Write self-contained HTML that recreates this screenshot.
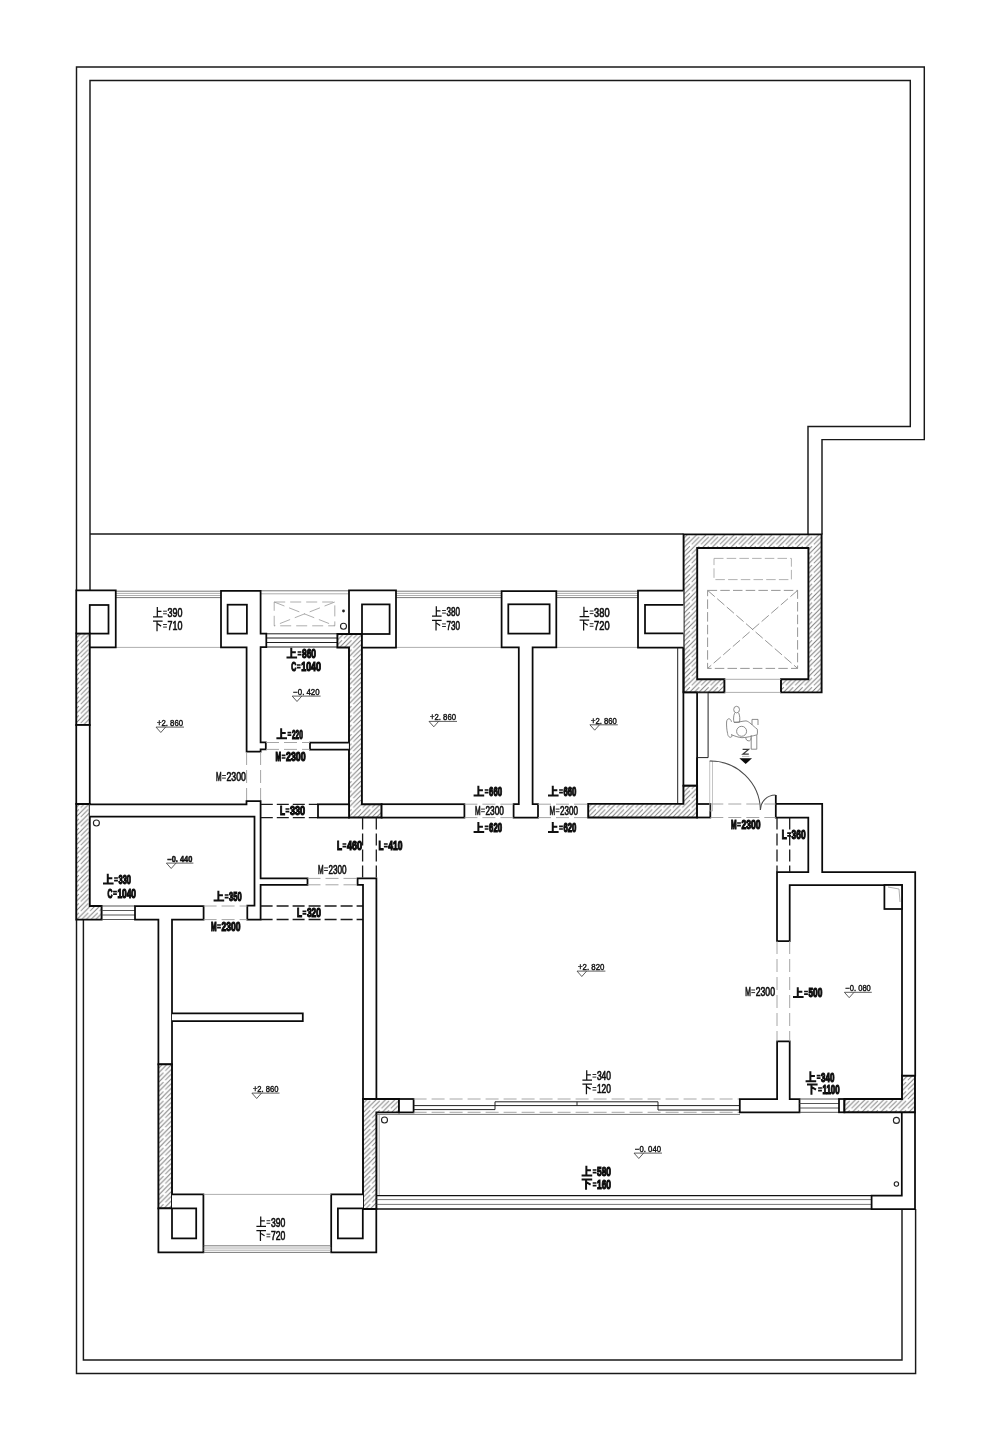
<!DOCTYPE html>
<html><head><meta charset="utf-8"><title>Floor plan</title>
<style>
html,body{margin:0;padding:0;background:#fff;}
svg{display:block;filter:grayscale(1);}
.f{fill:none;stroke:#181818;stroke-width:1.45;}
.w{fill:#fff;stroke:#0a0a0a;stroke-width:1.75;stroke-linejoin:miter;}
.k{fill:none;stroke:#0a0a0a;stroke-width:1.75;}
.h{fill:url(#ht);stroke:#0a0a0a;stroke-width:1.9;}
.t{fill:none;stroke:#555;stroke-width:0.8;}
.m{fill:none;stroke:#111;stroke-width:1.3;}
.t3{fill:none;stroke:#444;stroke-width:0.9;}
.t2{fill:none;stroke:#222;stroke-width:1;}
.g{fill:none;stroke:#999;stroke-width:0.8;}
.g2{fill:none;stroke:#aaa;stroke-width:0.7;}
.arc{fill:none;stroke:#4a4a4a;stroke-width:1.05;}
.c{fill:#fff;stroke:#222;stroke-width:1.1;}
.dl{fill:none;stroke:#9c9c9c;stroke-width:0.9;stroke-dasharray:13 5;}
.de{fill:none;stroke:#8a8a8a;stroke-width:0.9;stroke-dasharray:9.5 3.2;}
.de2{fill:none;stroke:#aaa;stroke-width:0.9;stroke-dasharray:9.5 3.2;}
.dl2{fill:none;stroke:#999;stroke-width:0.8;stroke-dasharray:11 5;}
.dd{fill:none;stroke:#1a1a1a;stroke-width:1.3;stroke-dasharray:12 4;}
text{font-family:"Liberation Sans",sans-serif;fill:#111;}
.tr{font-size:12.4px;stroke:#111;stroke-width:0.7;}
.tb{font-size:12.4px;font-weight:bold;stroke:#0a0a0a;stroke-width:1.2;}
.er{font-size:8.4px;stroke:#111;stroke-width:0.4;}
.eb{font-size:8.4px;font-weight:bold;stroke:#111;stroke-width:0.5;}
.el{fill:none;stroke:#333;stroke-width:0.8;}
</style></head>
<body>
<svg width="1000" height="1440" viewBox="0 0 1000 1440">
<defs>
<pattern id="ht" patternUnits="userSpaceOnUse" width="9.4" height="9.4">
<rect width="9.400" height="9.400" fill="#fff"/>
<path d="M-1,1L1,-1M-0.500,9.900L9.900,-0.500M8.400,10.400L10.400,8.400" stroke="#787878" stroke-width="0.95" fill="none"/>
<path d="M-0.300,5L3.700,1M5.400,8.700L9.700,4.400" stroke="#858585" stroke-width="0.95" fill="none"/>
</pattern>
</defs>
<rect width="1000" height="1440" fill="#fff"/>
<path class="f" d="M76.5,591V67H924.3V439.6H822V534.4"/>
<path class="f" d="M90,591V80.5H910.3V426.4H808V534.4"/>
<path class="f" d="M90,534H683.6"/>
<path class="f" d="M76.5,919.6V1373.4H915.6V1209"/>
<path class="f" d="M83.4,919.6V1360H902V1209"/>
<path class="h" d="M683.6,534.4H821.6V692.4H781V679.2H808.4V548H697.2V679.2H724.4V692.4H683.6Z"/>
<path class="g" d="M724.4,679.3H781"/>
<path class="g" d="M724.4,692.4H781"/>
<rect class="de2" x="714" y="558.4" width="77.4" height="21.2"/>
<path class="de" d="M707.6,590.4H797.6V668.4H707.6ZM707.6,590.4L797.6,668.4M797.6,590.4L707.6,668.4"/>
<path class="t" d="M115.75,591.2H221"/>
<path class="g" d="M115.75,593.4H221"/>
<path class="g" d="M115.75,595.5H221"/>
<path class="t" d="M115.75,597.6H221"/>
<path class="g" d="M115.75,647.4H221"/>
<path class="t" d="M396,591.2H501.6"/>
<path class="g" d="M396,593.4H501.6"/>
<path class="g" d="M396,595.5H501.6"/>
<path class="t" d="M396,597.6H501.6"/>
<path class="g" d="M396,647.4H501.6"/>
<path class="t" d="M556.3,591.2H638"/>
<path class="g" d="M556.3,593.4H638"/>
<path class="g" d="M556.3,595.5H638"/>
<path class="t" d="M556.3,597.6H638"/>
<path class="g" d="M556.3,647.4H638"/>
<path class="t" d="M260.5,590.8H348.8"/>
<path class="g" d="M260.5,593.8H348.8"/>
<path class="t2" d="M266.5,633.8H337.5"/>
<path class="t2" d="M266.5,638H337.5"/>
<path class="t2" d="M266.5,642.5H337.5"/>
<path class="t2" d="M266.5,647H337.5"/>
<path class="dl2" d="M274.2,602H334.8V625.8H274.2ZM274.2,602L334.8,625.8M334.8,602L274.2,625.8"/>
<circle cx="343.5" cy="611" r="1.4" fill="#222"/>
<circle cx="343.5" cy="626.3" r="3" class="c"/>
<path class="w" d="M76.25,633.6V590.4H115.75V647.4H89.75"/>
<rect class="w" x="89.75" y="605" width="18.75" height="28.6"/>
<rect class="h" x="76.25" y="633.6" width="13.5" height="91.4"/>
<rect class="w" x="76.25" y="725" width="13.5" height="79"/>
<path class="h" d="M76.25,804H89.75V906H101.6V919.6H76.25Z"/>
<path class="w" d="M221,590.8H260.6V633.7H266.3V647.2H260.6V742.4H265.8V749.3H260.6V751.7H246.6V647.3H221Z"/>
<rect class="w" x="227.6" y="604.7" width="19.3" height="28.9"/>
<path class="w" d="M349,634V590.4H396V647.6H362"/>
<rect class="w" x="362" y="604.4" width="27.6" height="29.6"/>
<path class="h" d="M337.4,634H361.9V804.2H381.6V817.5H349V647.5H337.4Z"/>
<path class="w" d="M501.6,591H556.3V647.4H532.6V804H538V817.6H513.6V804H518.8V647.4H501.6Z"/>
<rect class="w" x="508.3" y="604.3" width="41.3" height="29.3"/>
<path class="w" d="M683.4,590.6H638V647.7H683.4"/>
<path class="w" d="M683.4,604.8H645V633.4H683.4"/>
<path class="t2" d="M677.7,647.7V804"/>
<path class="k" d="M683.4,647.7V692.4"/>
<rect class="w" x="683.4" y="692.5" width="13.7" height="93.2"/>
<path class="t2" d="M697.1,692.5H708.1V757.6H697.1"/>
<path class="h" d="M588.2,803.9H683.4V785.7H697.1V817.5H588.2Z"/>
<path class="k" d="M697.1,757.6V804"/>
<rect class="w" x="697.1" y="804" width="13.2" height="13.5"/>
<path class="w" d="M348.9,742.6H310V749.5H348.9"/>
<path class="dl" d="M266,742.5H310"/>
<path class="dl" d="M266,749.4H310"/>
<path class="dl" d="M246.6,752V801"/>
<path class="dl" d="M260.6,752V801"/>
<path class="w" d="M89.75,804.3H246.5V801.2H260.6V878.4H307.5V884.8H260.6V919.5H247.3V905.7H254.5V816.6H89.75"/>
<path class="dd" d="M260.8,804.4H318"/>
<path class="dd" d="M260.8,817.6H318"/>
<rect class="w" x="318" y="804.3" width="31" height="13.3"/>
<rect class="w" x="381.6" y="804.2" width="82.8" height="13.4"/>
<path class="dl" d="M464.4,804.2H513.6"/>
<path class="dl" d="M464.4,817.6H513.6"/>
<path class="dl" d="M538,804.2H588.2"/>
<path class="dl" d="M538,817.6H588.2"/>
<path class="dd" d="M362.6,817.6V878.4"/>
<path class="dd" d="M376.3,817.6V878.4"/>
<path class="dl" d="M307.5,878.4H357.6"/>
<path class="dl" d="M307.5,884.8H357.6"/>
<path class="dd" d="M260.6,906H363"/>
<path class="dd" d="M260.6,919.5H363"/>
<path class="w" d="M357.6,878.4H376.4V1099H363V884.8H357.6Z"/>
<path class="h" d="M363,1099H399V1112.4H376.4V1209H363Z"/>
<rect class="w" x="399" y="1099" width="14.6" height="13.4"/>
<path class="t3" d="M101.6,906H135"/>
<path class="t3" d="M101.6,910.5H135"/>
<path class="t3" d="M101.6,915H135"/>
<path class="t3" d="M101.6,919.5H135"/>
<path class="w" d="M135,906H203.6V919.6H172V1064.3H158.4V919.6H135Z"/>
<path class="dl" d="M203.6,906H247.4"/>
<path class="dl" d="M203.6,919.6H247.4"/>
<rect class="h" x="158.4" y="1064.3" width="13.6" height="144.1"/>
<path class="w" d="M172,1013.3H302.8V1021H172"/>
<path class="w" d="M172,1194.4H203.4V1252.4H158.4V1208.4H172"/>
<rect class="w" x="172" y="1208.4" width="24.2" height="30.0"/>
<path class="w" d="M363,1209H376.3V1252.4H331.2V1194.4H363"/>
<rect class="w" x="337.9" y="1208.4" width="24.9" height="30.0"/>
<path class="g" d="M203.4,1194.4H331.2"/>
<path class="t" d="M203.4,1245.8H331.2"/>
<path class="g" d="M203.4,1248H331.2"/>
<path class="g" d="M203.4,1250.2H331.2"/>
<path class="t" d="M203.4,1252.4H331.2"/>
<path class="dl" d="M413.6,1099H739.6"/>
<path class="dl" d="M413.6,1112.3H739.6"/>
<path class="t2" d="M413.6,1105.6H658"/>
<path class="t2" d="M413.6,1109.6H495V1101.8H658V1110H739.6"/>
<path class="t2" d="M658,1105.6H739.6"/>
<path class="t2" d="M577,1101.8V1105.6"/>
<path class="t" d="M376.4,1114.4H740"/>
<path class="g" d="M379.2,1114.6V1195.6"/>
<path class="m" d="M376.4,1195.6H871.6"/>
<path class="t" d="M376.4,1199.6H871.6"/>
<path class="t" d="M376.4,1204.4H871.6"/>
<path class="m" d="M376.4,1209H871.6"/>
<path class="w" d="M901.8,1112.4V1195.6H871.6V1209H915V1112.4"/>
<circle cx="384.5" cy="1120" r="3" class="c"/>
<circle cx="896.4" cy="1120.4" r="3" class="c"/>
<circle cx="896.4" cy="1184" r="2.2" class="c"/>
<circle cx="96.4" cy="823" r="3" class="c"/>
<path class="w" d="M777.1,1041.4H789.7V1099H799.5V1112.3H739.8V1099H777.1Z"/>
<path class="t3" d="M799.5,1099H839"/>
<path class="t3" d="M799.5,1103.5H839"/>
<path class="t3" d="M799.5,1108H839"/>
<path class="t3" d="M799.5,1112.3H839"/>
<rect class="w" x="839" y="1099" width="5.4" height="13.3"/>
<path class="h" d="M844.4,1099H902V1075.5H915V1112.3H844.4Z"/>
<path class="w" d="M775.8,795V803.8H822.2V872H915.2V1075.5H902V885H789.7V941H777V872H808.3V817.6H775.8V803.8"/>
<rect class="w" x="884.4" y="885" width="17.6" height="24"/>
<path class="g" d="M888,887L899,889L900,902"/>
<path class="dd" d="M777,817.6V872"/>
<path class="dd" d="M789.7,817.6V872"/>
<path class="dl" d="M777,941V1041.4"/>
<path class="dl" d="M789.7,941V1041.4"/>
<path class="dl" d="M710.3,804H775.8"/>
<path class="dl" d="M710.3,817.5H775.8"/>
<path class="g2" d="M709.7,761V811H712.5V761Z"/>
<path class="arc" d="M709.7,761A50,50 0 0 1 760.4,810"/>
<path class="arc" d="M775.5,795A15,15 0 0 0 760.4,810"/>
<path d="M157.32,606.90V617.10M157.32,611.49H161.45M153.00,616.80H162.60" fill="none" stroke="#111" stroke-width="1.25"/>
<path d="M163.10,611.20h3.8M163.10,613.80h3.8" stroke="#2a2a2a" stroke-width="1.0" fill="none"/>
<text class="tr" x="167.50" y="617.10" textLength="14.90" lengthAdjust="spacingAndGlyphs">390</text>
<path d="M153.00,621.00H162.60M157.03,621.00V631.20M157.63,623.87L161.16,626.12" fill="none" stroke="#111" stroke-width="1.25"/>
<path d="M163.10,624.50h3.8M163.10,627.10h3.8" stroke="#2a2a2a" stroke-width="1.0" fill="none"/>
<text class="tr" x="167.50" y="630.40" textLength="14.90" lengthAdjust="spacingAndGlyphs">710</text>
<path d="M436.32,606.20V616.40M436.32,610.79H440.45M432.00,616.10H441.60" fill="none" stroke="#111" stroke-width="1.25"/>
<path d="M442.10,610.50h3.8M442.10,613.10h3.8" stroke="#2a2a2a" stroke-width="1.0" fill="none"/>
<text class="tr" x="446.50" y="616.40" textLength="13.50" lengthAdjust="spacingAndGlyphs">380</text>
<path d="M432.00,620.40H441.60M436.03,620.40V630.60M436.63,623.27L440.16,625.52" fill="none" stroke="#111" stroke-width="1.25"/>
<path d="M442.10,623.90h3.8M442.10,626.50h3.8" stroke="#2a2a2a" stroke-width="1.0" fill="none"/>
<text class="tr" x="446.50" y="629.80" textLength="13.50" lengthAdjust="spacingAndGlyphs">730</text>
<path d="M583.92,606.70V616.90M583.92,611.29H588.05M579.60,616.60H589.20" fill="none" stroke="#111" stroke-width="1.25"/>
<path d="M589.70,611.00h3.8M589.70,613.60h3.8" stroke="#2a2a2a" stroke-width="1.0" fill="none"/>
<text class="tr" x="594.10" y="616.90" textLength="15.50" lengthAdjust="spacingAndGlyphs">380</text>
<path d="M579.60,620.20H589.20M583.63,620.20V630.40M584.23,623.07L587.76,625.32" fill="none" stroke="#111" stroke-width="1.25"/>
<path d="M589.70,623.70h3.8M589.70,626.30h3.8" stroke="#2a2a2a" stroke-width="1.0" fill="none"/>
<text class="tr" x="594.10" y="629.60" textLength="15.50" lengthAdjust="spacingAndGlyphs">720</text>
<path d="M260.72,1216.40V1226.60M260.72,1220.99H264.85M256.40,1226.30H266.00" fill="none" stroke="#111" stroke-width="1.25"/>
<path d="M266.50,1220.70h3.8M266.50,1223.30h3.8" stroke="#2a2a2a" stroke-width="1.0" fill="none"/>
<text class="tr" x="270.90" y="1226.60" textLength="14.40" lengthAdjust="spacingAndGlyphs">390</text>
<path d="M256.40,1230.70H266.00M260.43,1230.70V1240.90M261.03,1233.57L264.56,1235.82" fill="none" stroke="#111" stroke-width="1.25"/>
<path d="M266.50,1234.20h3.8M266.50,1236.80h3.8" stroke="#2a2a2a" stroke-width="1.0" fill="none"/>
<text class="tr" x="270.90" y="1240.10" textLength="14.40" lengthAdjust="spacingAndGlyphs">720</text>
<path d="M586.72,1070.20V1080.40M586.72,1074.79H590.85M582.40,1080.10H592.00" fill="none" stroke="#111" stroke-width="1.25"/>
<path d="M592.50,1074.50h3.8M592.50,1077.10h3.8" stroke="#2a2a2a" stroke-width="1.0" fill="none"/>
<text class="tr" x="596.90" y="1080.40" textLength="14.10" lengthAdjust="spacingAndGlyphs">340</text>
<path d="M582.40,1084.00H592.00M586.43,1084.00V1094.20M587.03,1086.87L590.56,1089.12" fill="none" stroke="#111" stroke-width="1.25"/>
<path d="M592.50,1087.50h3.8M592.50,1090.10h3.8" stroke="#2a2a2a" stroke-width="1.0" fill="none"/>
<text class="tr" x="596.90" y="1093.40" textLength="14.10" lengthAdjust="spacingAndGlyphs">120</text>
<text class="tr" x="216.00" y="781.40" textLength="5.60" lengthAdjust="spacingAndGlyphs">M</text>
<path d="M222.10,775.50h3.8M222.10,778.10h3.8" stroke="#2a2a2a" stroke-width="1.0" fill="none"/>
<text class="tr" x="226.50" y="781.40" textLength="19.50" lengthAdjust="spacingAndGlyphs">2300</text>
<text class="tr" x="318.00" y="873.80" textLength="5.60" lengthAdjust="spacingAndGlyphs">M</text>
<path d="M324.10,867.90h3.8M324.10,870.50h3.8" stroke="#2a2a2a" stroke-width="1.0" fill="none"/>
<text class="tr" x="328.50" y="873.80" textLength="18.10" lengthAdjust="spacingAndGlyphs">2300</text>
<text class="tr" x="475.00" y="815.00" textLength="5.60" lengthAdjust="spacingAndGlyphs">M</text>
<path d="M481.10,809.10h3.8M481.10,811.70h3.8" stroke="#2a2a2a" stroke-width="1.0" fill="none"/>
<text class="tr" x="485.50" y="815.00" textLength="18.50" lengthAdjust="spacingAndGlyphs">2300</text>
<text class="tr" x="549.60" y="815.00" textLength="5.60" lengthAdjust="spacingAndGlyphs">M</text>
<path d="M555.70,809.10h3.8M555.70,811.70h3.8" stroke="#2a2a2a" stroke-width="1.0" fill="none"/>
<text class="tr" x="560.10" y="815.00" textLength="17.90" lengthAdjust="spacingAndGlyphs">2300</text>
<text class="tr" x="745.20" y="995.90" textLength="5.60" lengthAdjust="spacingAndGlyphs">M</text>
<path d="M751.30,990.00h3.8M751.30,992.60h3.8" stroke="#2a2a2a" stroke-width="1.0" fill="none"/>
<text class="tr" x="755.70" y="995.90" textLength="19.30" lengthAdjust="spacingAndGlyphs">2300</text>
<path d="M291.27,647.70V657.90M291.27,652.29H295.83M286.50,657.60H297.10" fill="none" stroke="#111" stroke-width="2.0"/>
<path d="M297.60,652.00h3.8M297.60,654.60h3.8" stroke="#111" stroke-width="1.7" fill="none"/>
<text class="tb" x="302.00" y="657.90" textLength="14.00" lengthAdjust="spacingAndGlyphs">860</text>
<text class="tb" x="291.30" y="670.90" textLength="5.00" lengthAdjust="spacingAndGlyphs">C</text>
<path d="M296.80,665.00h3.8M296.80,667.60h3.8" stroke="#111" stroke-width="1.7" fill="none"/>
<text class="tb" x="301.20" y="670.90" textLength="19.80" lengthAdjust="spacingAndGlyphs">1040</text>
<path d="M281.17,728.30V738.50M281.17,732.89H285.73M276.40,738.20H287.00" fill="none" stroke="#111" stroke-width="2.0"/>
<path d="M287.50,732.60h3.8M287.50,735.20h3.8" stroke="#111" stroke-width="1.7" fill="none"/>
<text class="tb" x="291.90" y="738.50" textLength="10.90" lengthAdjust="spacingAndGlyphs">220</text>
<text class="tb" x="275.60" y="761.30" textLength="5.60" lengthAdjust="spacingAndGlyphs">M</text>
<path d="M281.70,755.40h3.8M281.70,758.00h3.8" stroke="#111" stroke-width="1.7" fill="none"/>
<text class="tb" x="286.10" y="761.30" textLength="19.50" lengthAdjust="spacingAndGlyphs">2300</text>
<text class="tb" x="280.00" y="814.90" textLength="5.00" lengthAdjust="spacingAndGlyphs">L</text>
<path d="M285.50,809.00h3.8M285.50,811.60h3.8" stroke="#111" stroke-width="1.7" fill="none"/>
<text class="tb" x="289.90" y="814.90" textLength="15.10" lengthAdjust="spacingAndGlyphs">330</text>
<text class="tb" x="337.00" y="849.90" textLength="5.00" lengthAdjust="spacingAndGlyphs">L</text>
<path d="M342.50,844.00h3.8M342.50,846.60h3.8" stroke="#111" stroke-width="1.7" fill="none"/>
<text class="tb" x="346.90" y="849.90" textLength="15.10" lengthAdjust="spacingAndGlyphs">460</text>
<text class="tb" x="378.40" y="849.90" textLength="5.00" lengthAdjust="spacingAndGlyphs">L</text>
<path d="M383.90,844.00h3.8M383.90,846.60h3.8" stroke="#111" stroke-width="1.7" fill="none"/>
<text class="tb" x="388.30" y="849.90" textLength="14.10" lengthAdjust="spacingAndGlyphs">410</text>
<text class="tb" x="297.00" y="917.20" textLength="5.00" lengthAdjust="spacingAndGlyphs">L</text>
<path d="M302.50,911.30h3.8M302.50,913.90h3.8" stroke="#111" stroke-width="1.7" fill="none"/>
<text class="tb" x="306.90" y="917.20" textLength="14.10" lengthAdjust="spacingAndGlyphs">320</text>
<path d="M107.77,873.70V883.90M107.77,878.29H112.33M103.00,883.60H113.60" fill="none" stroke="#111" stroke-width="2.0"/>
<path d="M114.10,878.00h3.8M114.10,880.60h3.8" stroke="#111" stroke-width="1.7" fill="none"/>
<text class="tb" x="118.50" y="883.90" textLength="12.50" lengthAdjust="spacingAndGlyphs">330</text>
<text class="tb" x="107.60" y="897.50" textLength="5.00" lengthAdjust="spacingAndGlyphs">C</text>
<path d="M113.10,891.60h3.8M113.10,894.20h3.8" stroke="#111" stroke-width="1.7" fill="none"/>
<text class="tb" x="117.50" y="897.50" textLength="18.50" lengthAdjust="spacingAndGlyphs">1040</text>
<path d="M218.37,890.70V900.90M218.37,895.29H222.93M213.60,900.60H224.20" fill="none" stroke="#111" stroke-width="2.0"/>
<path d="M224.70,895.00h3.8M224.70,897.60h3.8" stroke="#111" stroke-width="1.7" fill="none"/>
<text class="tb" x="229.10" y="900.90" textLength="12.50" lengthAdjust="spacingAndGlyphs">350</text>
<text class="tb" x="211.00" y="930.90" textLength="5.60" lengthAdjust="spacingAndGlyphs">M</text>
<path d="M217.10,925.00h3.8M217.10,927.60h3.8" stroke="#111" stroke-width="1.7" fill="none"/>
<text class="tb" x="221.50" y="930.90" textLength="18.90" lengthAdjust="spacingAndGlyphs">2300</text>
<path d="M478.37,785.70V795.90M478.37,790.29H482.93M473.60,795.60H484.20" fill="none" stroke="#111" stroke-width="2.0"/>
<path d="M484.70,790.00h3.8M484.70,792.60h3.8" stroke="#111" stroke-width="1.7" fill="none"/>
<text class="tb" x="489.10" y="795.90" textLength="12.90" lengthAdjust="spacingAndGlyphs">660</text>
<path d="M552.77,785.70V795.90M552.77,790.29H557.33M548.00,795.60H558.60" fill="none" stroke="#111" stroke-width="2.0"/>
<path d="M559.10,790.00h3.8M559.10,792.60h3.8" stroke="#111" stroke-width="1.7" fill="none"/>
<text class="tb" x="563.50" y="795.90" textLength="12.90" lengthAdjust="spacingAndGlyphs">660</text>
<path d="M478.37,822.10V832.30M478.37,826.69H482.93M473.60,832.00H484.20" fill="none" stroke="#111" stroke-width="2.0"/>
<path d="M484.70,826.40h3.8M484.70,829.00h3.8" stroke="#111" stroke-width="1.7" fill="none"/>
<text class="tb" x="489.10" y="832.30" textLength="12.90" lengthAdjust="spacingAndGlyphs">620</text>
<path d="M552.77,822.10V832.30M552.77,826.69H557.33M548.00,832.00H558.60" fill="none" stroke="#111" stroke-width="2.0"/>
<path d="M559.10,826.40h3.8M559.10,829.00h3.8" stroke="#111" stroke-width="1.7" fill="none"/>
<text class="tb" x="563.50" y="832.30" textLength="12.90" lengthAdjust="spacingAndGlyphs">620</text>
<text class="tb" x="731.00" y="828.90" textLength="5.60" lengthAdjust="spacingAndGlyphs">M</text>
<path d="M737.10,823.00h3.8M737.10,825.60h3.8" stroke="#111" stroke-width="1.7" fill="none"/>
<text class="tb" x="741.50" y="828.90" textLength="19.10" lengthAdjust="spacingAndGlyphs">2300</text>
<text class="tb" x="781.70" y="839.10" textLength="5.00" lengthAdjust="spacingAndGlyphs">L</text>
<path d="M787.20,833.20h3.8M787.20,835.80h3.8" stroke="#111" stroke-width="1.7" fill="none"/>
<text class="tb" x="791.60" y="839.10" textLength="14.00" lengthAdjust="spacingAndGlyphs">360</text>
<path d="M797.77,987.20V997.40M797.77,991.79H802.33M793.00,997.10H803.60" fill="none" stroke="#111" stroke-width="2.0"/>
<path d="M804.10,991.50h3.8M804.10,994.10h3.8" stroke="#111" stroke-width="1.7" fill="none"/>
<text class="tb" x="808.50" y="997.40" textLength="13.80" lengthAdjust="spacingAndGlyphs">500</text>
<path d="M810.37,1071.30V1081.50M810.37,1075.89H814.93M805.60,1081.20H816.20" fill="none" stroke="#111" stroke-width="2.0"/>
<path d="M816.70,1075.60h3.8M816.70,1078.20h3.8" stroke="#111" stroke-width="1.7" fill="none"/>
<text class="tb" x="821.10" y="1081.50" textLength="13.30" lengthAdjust="spacingAndGlyphs">340</text>
<path d="M807.00,1084.50H817.60M811.45,1084.50V1094.70M812.05,1087.37L816.01,1089.62" fill="none" stroke="#111" stroke-width="2.0"/>
<path d="M818.10,1088.00h3.8M818.10,1090.60h3.8" stroke="#111" stroke-width="1.7" fill="none"/>
<text class="tb" x="822.50" y="1093.90" textLength="17.10" lengthAdjust="spacingAndGlyphs">1100</text>
<path d="M586.37,1165.70V1175.90M586.37,1170.29H590.93M581.60,1175.60H592.20" fill="none" stroke="#111" stroke-width="2.0"/>
<path d="M592.70,1170.00h3.8M592.70,1172.60h3.8" stroke="#111" stroke-width="1.7" fill="none"/>
<text class="tb" x="597.10" y="1175.90" textLength="13.90" lengthAdjust="spacingAndGlyphs">580</text>
<path d="M581.60,1179.50H592.20M586.05,1179.50V1189.70M586.65,1182.37L590.61,1184.62" fill="none" stroke="#111" stroke-width="2.0"/>
<path d="M592.70,1183.00h3.8M592.70,1185.60h3.8" stroke="#111" stroke-width="1.7" fill="none"/>
<text class="tb" x="597.10" y="1188.90" textLength="13.90" lengthAdjust="spacingAndGlyphs">160</text>
<text class="er" x="157.00" y="726.00" textLength="26.00" lengthAdjust="spacingAndGlyphs">+2. 860</text>
<path class="el" d="M156.00,727.10H184.00M156.00,727.10L160.80,732.50L165.60,727.10"/>
<text class="er" x="293.20" y="695.00" textLength="26.40" lengthAdjust="spacingAndGlyphs">−0. 420</text>
<path class="el" d="M292.20,696.10H320.60M292.20,696.10L297.00,701.50L301.80,696.10"/>
<text class="er" x="430.00" y="720.30" textLength="26.00" lengthAdjust="spacingAndGlyphs">+2. 860</text>
<path class="el" d="M429.00,721.40H457.00M429.00,721.40L433.80,726.80L438.60,721.40"/>
<text class="er" x="590.90" y="723.70" textLength="25.90" lengthAdjust="spacingAndGlyphs">+2. 860</text>
<path class="el" d="M589.90,724.80H617.80M589.90,724.80L594.70,730.20L599.50,724.80"/>
<text class="er" x="252.90" y="1092.00" textLength="25.60" lengthAdjust="spacingAndGlyphs">+2. 860</text>
<path class="el" d="M251.90,1093.10H279.50M251.90,1093.10L256.70,1098.50L261.50,1093.10"/>
<text class="er" x="578.00" y="970.00" textLength="26.40" lengthAdjust="spacingAndGlyphs">+2. 820</text>
<path class="el" d="M577.00,971.10H605.40M577.00,971.10L581.80,976.50L586.60,971.10"/>
<text class="er" x="845.40" y="991.20" textLength="25.40" lengthAdjust="spacingAndGlyphs">−0. 080</text>
<path class="el" d="M844.40,992.30H871.80M844.40,992.30L849.20,997.70L854.00,992.30"/>
<text class="er" x="635.00" y="1152.00" textLength="26.00" lengthAdjust="spacingAndGlyphs">−0. 040</text>
<path class="el" d="M634.00,1153.10H662.00M634.00,1153.10L638.80,1158.50L643.60,1153.10"/>
<text class="eb" x="167.40" y="862.00" textLength="25.00" lengthAdjust="spacingAndGlyphs">−0. 440</text>
<path class="el" d="M166.40,863.10H193.40M166.40,863.10L171.20,868.50L176.00,863.10"/>
<path d="M739.3,758.3H752L745.7,763.9Z" fill="#0a0a0a"/>
<path d="M742,756.4H749.4" stroke="#999" stroke-width="0.7" fill="none"/>
<path d="M742.6,749.4H748.6L742.8,754.2H748.8" stroke="#3a3a3a" stroke-width="1.2" fill="none"/>
<g fill="none" stroke="#777" stroke-width="0.85">
<ellipse cx="736.6" cy="709.6" rx="2.9" ry="3.300"/>
<path d="M734.6,713.200C733.400,716 733.300,720 734,722.300H739.400C740.200,719.500 739.800,715.500 738.700,713"/>
<path d="M731.500,721.800C730.500,717.500 726.800,718 726.600,722C726.400,726 726.800,730 727.600,733.500"/>
<path d="M734,722.300C738,722.600 742,721 746,720.900C749,721.200 753,726 757.300,729.200C757.600,731 757.500,733 757.200,734.800"/>
<path d="M727.600,733.500C727.800,736.500 730,738.200 731.600,736.800C732.400,735.800 732,735 731.200,734.600C735,736.200 739,737.600 742,737.700C747,737.600 752,736 757.200,734.800"/>
<circle cx="741.6" cy="731.3" r="5"/>
<path d="M745.800,737.200C745.500,740 747.500,741.200 749.500,740.800C750.800,740.500 751,739 751,737.500"/>
<path d="M752,725V719.400H758V725"/>
<path d="M751.200,735.200V749.200H756.800V735.200"/>
</g>
</svg>
</body></html>
